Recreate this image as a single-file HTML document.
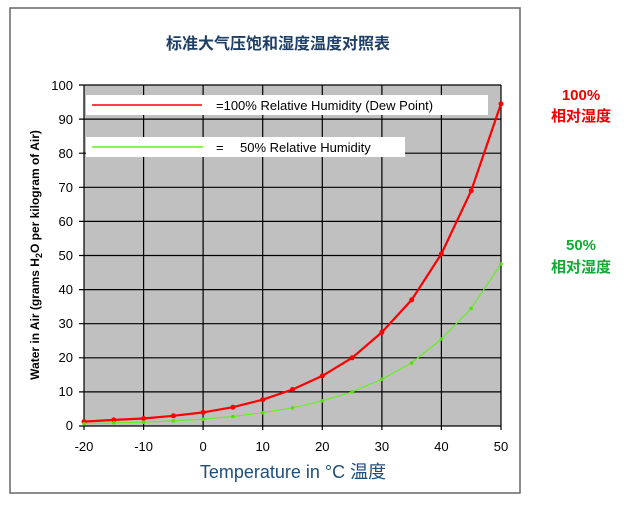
<!DOCTYPE html><html><head><meta charset="utf-8"><style>body{margin:0;background:#fff;}svg{display:block}</style></head><body>
<svg width="641" height="505" xmlns="http://www.w3.org/2000/svg" font-family="Liberation Sans, Noto Sans CJK SC, sans-serif">
<rect x="10" y="8" width="510" height="485" fill="#fff" stroke="#666" stroke-width="1.5"/>
<text x="278" y="49" text-anchor="middle" font-size="16" font-weight="bold" fill="#1f3f66">标准大气压饱和湿度温度对照表</text>
<rect x="84" y="85" width="417" height="341" fill="#c0c0c0"/>
<g stroke="#000" stroke-width="1.2">
<line x1="143.6" y1="85" x2="143.6" y2="430"/><line x1="203.1" y1="85" x2="203.1" y2="430"/><line x1="262.7" y1="85" x2="262.7" y2="430"/><line x1="322.3" y1="85" x2="322.3" y2="430"/><line x1="381.9" y1="85" x2="381.9" y2="430"/><line x1="441.4" y1="85" x2="441.4" y2="430"/><line x1="501" y1="85" x2="501" y2="430"/><line x1="84" y1="85" x2="84" y2="430"/>
<line x1="79" y1="85" x2="501" y2="85"/><line x1="79" y1="119.1" x2="501" y2="119.1"/><line x1="79" y1="153.2" x2="501" y2="153.2"/><line x1="79" y1="187.3" x2="501" y2="187.3"/><line x1="79" y1="221.4" x2="501" y2="221.4"/><line x1="79" y1="255.5" x2="501" y2="255.5"/><line x1="79" y1="289.6" x2="501" y2="289.6"/><line x1="79" y1="323.7" x2="501" y2="323.7"/><line x1="79" y1="357.8" x2="501" y2="357.8"/><line x1="79" y1="391.9" x2="501" y2="391.9"/><line x1="79" y1="426" x2="501" y2="426"/>
</g>
<g font-size="13" text-anchor="end" fill="#000">
<text x="73" y="90">100</text><text x="73" y="124">90</text><text x="73" y="158">80</text><text x="73" y="192">70</text><text x="73" y="226">60</text><text x="73" y="260">50</text><text x="73" y="294">40</text><text x="73" y="328">30</text><text x="73" y="362">20</text><text x="73" y="396">10</text><text x="73" y="430">0</text>
</g>
<g font-size="13" text-anchor="middle">
<text x="84" y="451">-20</text><text x="143.6" y="451">-10</text><text x="203.1" y="451">0</text><text x="262.7" y="451">10</text><text x="322.3" y="451">20</text><text x="381.9" y="451">30</text><text x="441.4" y="451">40</text><text x="501" y="451">50</text>
</g>
<text x="293" y="478" text-anchor="middle" font-size="18" fill="#1f4e79">Temperature in °C 温度</text>
<text transform="translate(39,255) rotate(-90)" text-anchor="middle" font-size="12" font-weight="bold">Water in Air (grams H<tspan font-size="9" dy="3">2</tspan><tspan dy="-3">O per kilogram of Air)</tspan></text>
<polyline fill="none" stroke="#ff0000" stroke-width="2.2" points="84,421.6 113.8,419.9 143.6,418.5 173.4,415.8 203.1,412.4 232.9,407.2 262.7,399.7 292.5,389.5 322.3,375.9 352.1,357.8 381.9,332.2 411.7,299.8 441.4,253.8 471.2,190.7 501,103.8"/>
<g fill="#ff0000"><circle cx="84" cy="421.6" r="2.5"/><circle cx="113.8" cy="419.9" r="2.5"/><circle cx="143.6" cy="418.5" r="2.5"/><circle cx="173.4" cy="415.8" r="2.5"/><circle cx="203.1" cy="412.4" r="2.5"/><circle cx="232.9" cy="407.2" r="2.5"/><circle cx="262.7" cy="399.7" r="2.5"/><circle cx="292.5" cy="389.5" r="2.5"/><circle cx="322.3" cy="375.9" r="2.5"/><circle cx="352.1" cy="357.8" r="2.5"/><circle cx="381.9" cy="332.2" r="2.5"/><circle cx="411.7" cy="299.8" r="2.5"/><circle cx="441.4" cy="253.8" r="2.5"/><circle cx="471.2" cy="190.7" r="2.5"/><circle cx="501" cy="103.8" r="2.5"/></g>
<polyline fill="none" stroke="#66ee22" stroke-width="1.2" points="84,423.8 113.8,422.9 143.6,422.2 173.4,420.9 203.1,419.2 232.9,416.5 262.7,412.7 292.5,407.9 322.3,400.8 352.1,391.9 381.9,379.3 411.7,362.9 441.4,339 471.2,308.4 501,264"/>
<g fill="#55dd11"><circle cx="84" cy="423.8" r="1.8"/><circle cx="113.8" cy="422.9" r="1.8"/><circle cx="143.6" cy="422.2" r="1.8"/><circle cx="173.4" cy="420.9" r="1.8"/><circle cx="203.1" cy="419.2" r="1.8"/><circle cx="232.9" cy="416.5" r="1.8"/><circle cx="262.7" cy="412.7" r="1.8"/><circle cx="292.5" cy="407.9" r="1.8"/><circle cx="322.3" cy="400.8" r="1.8"/><circle cx="352.1" cy="391.9" r="1.8"/><circle cx="381.9" cy="379.3" r="1.8"/><circle cx="411.7" cy="362.9" r="1.8"/><circle cx="441.4" cy="339" r="1.8"/><circle cx="471.2" cy="308.4" r="1.8"/><circle cx="501" cy="264" r="1.8"/></g>
<rect x="86" y="95" width="402" height="20" fill="#fff"/>
<line x1="92" y1="105" x2="202" y2="105" stroke="#ff0000" stroke-width="1.5"/>
<text x="216" y="110" font-size="13">=100% Relative Humidity (Dew Point)</text>
<rect x="86" y="137" width="319" height="20" fill="#fff"/>
<line x1="92" y1="147" x2="203" y2="147" stroke="#66ee22" stroke-width="1.5"/>
<text x="216" y="152" font-size="13">=</text>
<text x="240" y="152" font-size="13">50% Relative Humidity</text>
<g font-weight="bold" text-anchor="middle" font-size="15">
<text x="581" y="100" fill="#ee0000">100%</text><text x="581" y="121" fill="#ee0000">相对湿度</text>
<text x="581" y="250" fill="#11aa33">50%</text><text x="581" y="272" fill="#11aa33">相对湿度</text>
</g>
</svg>
</body></html>
